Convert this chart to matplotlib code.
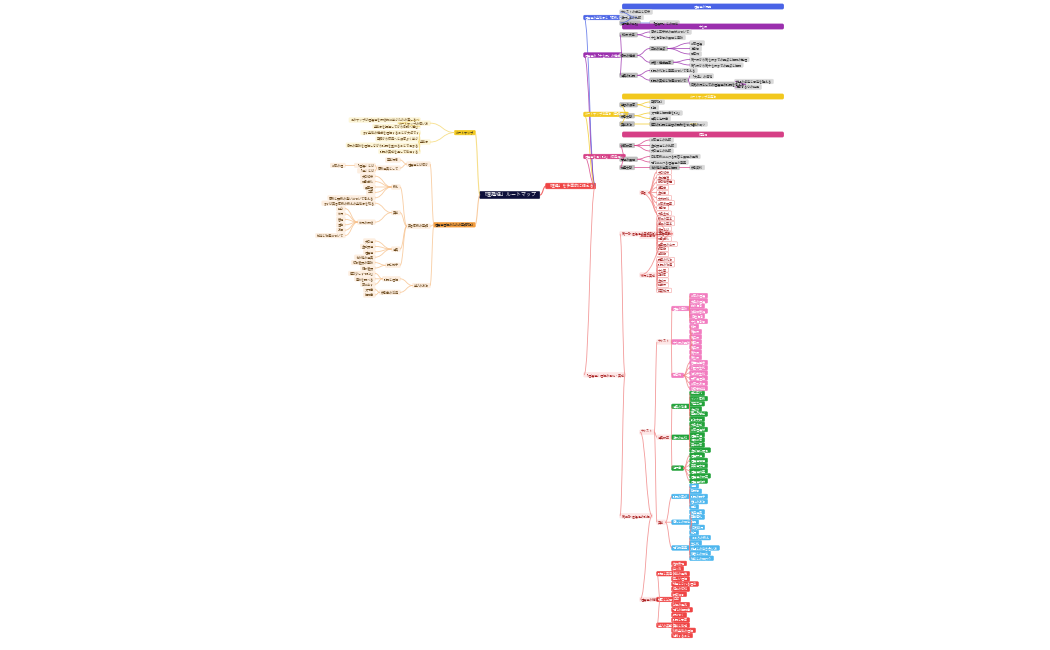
import matplotlib
matplotlib.use("Agg")
import matplotlib.pyplot as plt
from matplotlib.patches import FancyBboxPatch
from matplotlib.path import Path
from matplotlib.patches import PathPatch

plt.rcParams['font.family'] = ['Noto Sans CJK JP', 'DejaVu Sans']

ROOT = "「理趣経」ルートマップ"
RIGHT_MAIN = "「理趣」を多面的に捉える"

L = lambda t, *c: (t, list(c))

blue_tree = L("理趣経の全体像と「密教」の位置づけ",
              L("テキストの成立と伝来"), L("漢訳諸本の比較"),
              L("注釈書の系譜", L("『理趣釈』との関係")))
purple_tree = L("理趣経の「十七段」の構成",
                L("初段 大楽", L("序分と正宗分の区分について"), L("十七清浄句の展開と意味")),
                L("各段の構成", L("三つの視点", L("般若理趣"), L("清浄句"), L("百字偈")),
                  L("段落・構成要素", L("第一段から第七段までの要点と解説の整理"), L("第八段から第十七段までの要点と解説"))),
                L("経典の読誦", L("読誦の作法と意義について考える"),
                  L("読誦の実践と功徳について", L("「大楽」の境地"),
                    L("日常の行としての理趣経の読誦を考える", L("欲望の肯定と否定を超える"), L("清浄なる心の発見")))))
yellow_tree = L("ルートマップ活用法（基礎編）",
                L("学習の順序", L("基礎知識"), L("読解"), ),
                L("参考文献", L("入門書と解説書を読む"), L("原典と注釈書")),
                L("実践方法", L("毎日の読誦と学習の記録をつける", L("継続のコツ"))))
pink_tree = L("理趣経を深く読む（応用編）",
              L("比較研究", L("般若経との比較"), L("金剛頂経との比較"), L("大日経との比較")),
              L("思想の展開", L("日本密教における受容と展開の歴史"), L("現代における理趣経の意義")),
              L("関連文献", L("その他の経典と解説", L("参考資料"))))

g1 = L("真言", L("大日如来"), L("金剛薩埵"), L("観自在菩薩"), L("虚空蔵"), L("金剛拳"), L("文殊師利"),
       L("般若波羅蜜"), L("清浄句"), L("大楽金剛"))
g2 = L("教相と事相", L("教相の基本"), L("事相の基本"), L("灌頂とは"), L("三密加持"), L("即身成仏"),
       L("曼荼羅の世界"), L("阿字観"), L("月輪観"))
g3 = L("修行と実践", L("護摩の作法"), L("読誦の功徳"), L("十七尊"), L("五秘密"), L("金剛界"), L("胎蔵界"),
       L("四度加行"))
part1 = L("第一部 理趣経の基礎知識と真言密教", g1, g2, g3)

p1 = L("理趣の意味", L("般若の理趣"), L("大楽の理趣"), L("欲の清浄"), L("煩悩即菩提"), L("自性清浄"), L("十七清浄句"))
p2 = L("十七段の要旨", L("初段"), L("第二段"), L("第三段"), L("第四段"), L("第五段"), L("第六段"), L("第七段"))
p3 = L("百字偈", L("菩薩勝慧者"), L("乃至尽生死"), L("恒作衆生利"), L("而不趣涅槃"), L("般若及方便"), L("智度悉加持"))
gr1 = L("経典の背景", L("成立年代"), L("インド密教"), L("不空三蔵"), L("金剛智"), L("恵果阿闍梨"), L("弘法大師"))
gr2 = L("漢訳の系統", L("大楽金剛"), L("般若理趣分"), L("理趣広経"), L("徧照般若"), L("実相般若"), L("金剛場陀羅尼"))
gr3 = L("注釈書", L("理趣釈経"), L("理趣経開題"), L("真実経文句"), L("理趣経講義"), L("理趣経の研究"), L("理趣経講讃"))
b1 = L("読誦の実際", L("経題"), L("勧請句"), L("読誦の調子"), L("音読の方法"), L("回向"))
b2 = L("儀礼との関係", L("常用経典"), L("葬送儀礼"), L("法要"), L("日常勤行"), L("加行"))
b3 = L("現代的意義", L("こころの教え"), L("生と死"), L("欲望との向き合い方"), L("他者との関係"), L("社会との関わり"))
r1 = L("誤解と真意", L("性的表現"), L("立川流"), L("批判の歴史"), L("正しい理解"), L("秘経とされる理由"))
r2 = L("秘密と公開", L("伝授の伝統"), L("師資相承"), L("口伝"), L("公開の是非"), L("現代の解説書"))
r3 = L("学びの姿勢", L("師につく"), L("読誦と思索"), L("実践と体験"), L("仏教全体の理解"), L("継続すること"))
part2 = L("第二部 理趣経の読解",
          L("テキスト", L("テキスト", p1, p2, p3), L("経典研究", gr1, gr2, gr3), L("実践", b1, b2, b3)),
          L("理趣経の精神", r1, r2, r3))
bottom_tree = L("「理趣経」理解の深化・実践", part1, part2)

left_yellow = L("ルートマップ",
                L("ルートマップの使い方", L("このマップは理趣経を段階的に学ぶための道しるべ"), L("全体像を把握してから各論へ進む")),
                L("全体像", L("まず全体の構成を理解することが大切です"), L("基礎から応用へと順序よく学ぶ"),
                  L("各段の意味を理解しながら読誦を重ねることで深まる"), L("読誦の実践を通して体得する")))
left_orange = L("理趣経理解のための基礎知識",
                L("理趣経とは何か", L("基本概念"), L("密教経典として", L("「理趣」とは", L("般若の理")), L("「経」とは"))),
                L("真言密教の基礎",
                  L("教え", L("大日如来"), L("即身成仏"), L("曼荼羅"), L("三密"), L("密教と顕教の違いについて考える")),
                  L("実践", L("まずは真言密教の教えの全体像を知る"),
                    L("修行の段階", L("発心"), L("修行"), L("菩提"), L("涅槃"), L("方便"), L("加持と功徳について"))),
                  L("経典", L("大日経"), L("金剛頂経"), L("理趣経"), L("その他の経典")),
                  L("師と弟子", L("伝法灌頂の意味"), L("結縁灌頂"))),
                L("学びの方法", L("読誦と理解", L("毎日少しずつ読む"), L("意味を調べる"), L("声に出す")),
                  L("参考書の活用", L("入門書"), L("解説書"))))

BLUE, PURPLE, YELLOW, PINK = "#4a63e6", "#9b2fae", "#f2c81e", "#d63f86"
ORANGE, RED, GREEN, LBLUE, PINKL = "#f39c3c", "#ef4444", "#22a33a", "#4cb6ee", "#f27cc0"

fig = plt.figure(figsize=(10.5, 6.5), dpi=100)
ax = fig.add_axes([0, 0, 1, 1])
ax.set_xlim(0, 1050); ax.set_ylim(650, 0); ax.axis('off')
FS = 2.2

def nleaves(n):
    return 1 if not n[1] else sum(nleaves(c) for c in n[1])

def layout(n, depth, xs, cur, step, out):
    if not n[1]:
        y = cur[0]; cur[0] += step
    else:
        ys = [layout(c, depth + 1, xs, cur, step, out) for c in n[1]]
        y = (ys[0] + ys[-1]) / 2
    out.append((n, depth, xs[min(depth, len(xs) - 1)], y))
    return y

def curve(x0, y0, x1, y1, color, lw=0.6):
    xm = (x0 + x1) / 2
    p = Path([(x0, y0), (xm, y0), (xm, y1), (x1, y1)], [1, 4, 4, 4])
    ax.add_patch(PathPatch(p, fc='none', ec=color, lw=lw, alpha=0.8))

def box(x, y, text, fc, tc, sign=1, size=FS, pad=1.2, ec=None):
    w = len(text) * size * 1.35 + 2 * pad
    h = size * 1.8
    x0 = x if sign > 0 else x - w
    ax.add_patch(FancyBboxPatch((x0, y - h / 2), w, h, boxstyle="round,pad=0.3,rounding_size=1",
                                fc=fc, ec=ec or fc, lw=0.4))
    ax.text(x0 + w / 2, y, text, fontsize=size, color=tc, ha='center', va='center')
    return (x0 + w) if sign > 0 else x0

def draw_tree(tree, xs, y0, step, color, sign, fill_fn):
    out = []
    layout(tree, 0, xs, [y0], step, out)
    pos = {id(n): (n, d, x, y) for n, d, x, y in out}
    ends = {}
    for n, d, x, y in sorted(out, key=lambda t: t[1]):
        fc, tc, ec = fill_fn(n, d)
        ends[id(n)] = box(x, y, n[0], fc, tc, sign, ec=ec)
    for n, d, x, y in out:
        for c in n[1]:
            _, _, cx, cy = pos[id(c)]
            curve(ends[id(n)], y, cx, cy, color)
    return pos[id(tree)][3], pos[id(tree)][2]

rootx, rooty = 510, 195
box(rootx - 30, rooty, ROOT, "#0d0f3a", "white", 1, size=3.6, pad=3)
mx = 546
mend = box(mx, 186, RIGHT_MAIN, RED, "white", 1, size=2.8, pad=2)
curve(rootx + 30, rooty, mx, 186, RED, 0.8)

def simple(color):
    def f(n, d):
        if d == 0:
            return color, "white", None
        if not n[1]:
            return "#d9d9d9", "#333333", None
        return "#bdbdbd", "#222222", None
    return f

sections = [
    (blue_tree, 12, BLUE, 5.5, "理趣経の概要"),
    (purple_tree, 32, PURPLE, 5.5, "十七段"),
    (yellow_tree, 102, YELLOW, 5.5, "ルートマップ活用法"),
    (pink_tree, 140, PINK, 5.5, "応用編"),
]
for tree, y0, col, step, head in sections:
    ax.add_patch(FancyBboxPatch((623, y0 - 7.5), 160, 4, boxstyle="round,pad=0.2,rounding_size=1", fc=col, ec=col))
    ax.text(703, y0 - 5.5, head, fontsize=2.2, color='white', ha='center', va='center')
    yy, xx = draw_tree(tree, [584, 620, 650, 690, 735, 820], y0, step, col, 1, simple(col))
    curve(mend, 186, 584, yy, col)

def bottom_fill(n, d):
    for grp, c in [((p1, p2, p3), PINKL), ((gr1, gr2, gr3), GREEN), ((b1, b2, b3), LBLUE), ((r1, r2, r3), RED)]:
        if any(n is g or any(n is k for k in g[1]) for g in grp):
            return c, "white", None
    if any(n is k for g in (g1, g2, g3) for k in g[1]):
        return "white", "#aa3333", "#f4a0a0"
    return "#fde7e7", "#aa2222", None

yy, xx = draw_tree(bottom_tree, [584, 620, 640, 657, 672, 690], 172, 5.15, "#f08080", 1, bottom_fill)
curve(mend, 186, 584, yy, "#f08080")

def left_fill(col, leaf):
    def f(n, d):
        if d == 0:
            return col, "#222222", None
        return leaf, "#6b4a1e", None
    return f

yy, xx = draw_tree(left_yellow, [475, 430, 420], 120, 6.3, "#f5d76e", -1, left_fill(YELLOW, "#fdf6d8"))
curve(rootx - 30, rooty, 475, yy, "#f5d76e", 0.8)
yy, xx = draw_tree(left_orange, [475, 430, 400, 375, 345, 305], 160, 5.4, "#f7c08a", -1, left_fill(ORANGE, "#fdeee0"))
curve(rootx - 30, rooty, 475, yy, "#f7c08a", 0.8)

fig.savefig("out.png", dpi=100, facecolor="white")
